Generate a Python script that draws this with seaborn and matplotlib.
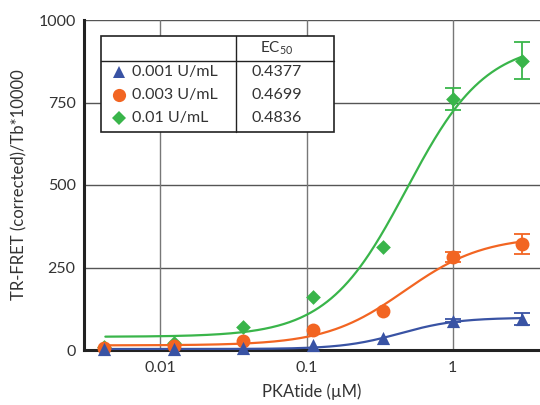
import numpy as np
import pandas as pd
import matplotlib
matplotlib.use("Agg")
import matplotlib.pyplot as plt
import seaborn as sns
from matplotlib.patches import Rectangle
from matplotlib.lines import Line2D

# ---- data ----
conc = [0.00412, 0.0123, 0.037, 0.111, 0.333, 1.0, 3.0]
series = ["0.001 U/mL", "0.003 U/mL", "0.01 U/mL"]
ec50 = [0.4377, 0.4699, 0.4836]
ec50_text = ["0.4377", "0.4699", "0.4836"]
blue_vals = [3, 3, 6, 16, 36, 89, 94]
orange_vals = [6, 11, 26, 60, 118, 282, 321]
green_vals = [8, 21, 70, 162, 312, 760, 877]
blue_err = [0, 0, 0, 0, 0, 5, 18]
orange_err = [0, 0, 0, 0, 0, 15, 30]
green_err = [0, 0, 0, 0, 0, 34, 57]
# fitted 4PL parameters (bottom, top, hill)
fit_bottom = [3, 14, 40]
fit_top = [98, 345, 935]
fit_hill = [2.2, 1.6, 1.6]
yticks = [0, 250, 500, 750, 1000]
xticks = [0.01, 0.1, 1]
xticklabels = ["0.01", "0.1", "1"]

colors = ["#3953a4", "#f26522", "#39b54a"]
markers = ["^", "o", "D"]
msizes = [9.5, 10, 7.5]
vals = [blue_vals, orange_vals, green_vals]
errs = [blue_err, orange_err, green_err]

sns.set_style("white")
plt.rcParams["font.family"] = ["Lato", "DejaVu Sans"]
txt = "#333333"

W, H = 540, 405
fig = plt.figure(figsize=(5.4, 4.05), dpi=100)
ax = fig.add_axes([84 / W, 1 - 350 / H, (W - 84) / W, 330 / H])
ax.set_xscale("log")
ax.set_xlim(0.003, 3.96)
ax.set_ylim(0, 1000)

# grid
for yv in yticks[1:]:
    ax.axhline(yv, color="#555555", lw=1.0, zorder=0)
for xv in xticks:
    ax.axvline(xv, color="#777777", lw=1.0, zorder=0)

xs = np.logspace(np.log10(0.0042), np.log10(3.0), 300)
for i in [2, 1, 0]:
    ys = fit_bottom[i] + (fit_top[i] - fit_bottom[i]) / (1 + (ec50[i] / xs) ** fit_hill[i])
    sns.lineplot(x=xs, y=ys, ax=ax, color=colors[i], lw=1.6, zorder=2)

for k, i in enumerate([2, 1, 0]):
    df = pd.DataFrame({"x": conc, "y": vals[i], "e": errs[i]})
    sub = df[df.e > 0]
    ax.errorbar(sub.x, sub.y, yerr=sub.e, fmt="none", ecolor=colors[i],
                elinewidth=1.3, capsize=6, capthick=1.3, zorder=3 + 2 * k)
    sns.scatterplot(data=df, x="x", y="y", ax=ax, marker=markers[i], color=colors[i],
                    s=msizes[i] ** 2, edgecolor=colors[i], linewidth=0, zorder=4 + 2 * k,
                    clip_on=False)

ax.set_xticks(xticks)
ax.set_xticklabels(xticklabels)
ax.minorticks_off()
ax.set_yticks(yticks)
ax.tick_params(axis="both", length=0, labelsize=11.5, colors=txt)
ax.tick_params(axis="x", pad=8)
ax.tick_params(axis="y", pad=6)
ax.set_xlabel("PKAtide (µM)", fontsize=12, color=txt, labelpad=6)
ax.set_ylabel("TR-FRET (corrected)/Tb*10000", fontsize=12, color=txt, labelpad=8)
for s in ["top", "right"]:
    ax.spines[s].set_visible(False)
for s in ["left", "bottom"]:
    ax.spines[s].set_color("#222222")
    ax.spines[s].set_linewidth(2.2)
    ax.spines[s].set_zorder(1)

# ---- table legend (pixel coords) ----
def fx(px):
    return px / W

def fy(py):
    return 1 - py / H

box_l, box_r, box_t, box_b = 101, 334, 36, 132
fig.patches.append(Rectangle((fx(box_l), fy(box_b)), fx(box_r) - fx(box_l), fy(box_t) - fy(box_b),
                             transform=fig.transFigure, facecolor="white", edgecolor="#222222",
                             lw=1.2, zorder=10))
fig.lines.append(Line2D([fx(box_l), fx(box_r)], [fy(61), fy(61)], transform=fig.transFigure,
                        color="#222222", lw=1.0, zorder=11))
fig.lines.append(Line2D([fx(236), fx(236)], [fy(box_t), fy(box_b)], transform=fig.transFigure,
                        color="#222222", lw=1.0, zorder=11))
fig.text(fx(277), fy(48.5), "EC$_{\\mathregular{50}}$", ha="center", va="center",
         fontsize=11, color=txt, zorder=12)
row_y = [72, 95, 118]
for i in range(3):
    fig.lines.append(Line2D([fx(119)], [fy(row_y[i])], transform=fig.transFigure,
                            marker=markers[i], color=colors[i], markersize=msizes[i] * 0.95,
                            markeredgewidth=0, linestyle="none", zorder=12))
    fig.text(fx(132), fy(row_y[i]), series[i], ha="left", va="center", fontsize=11.5,
             color=txt, zorder=12)
    fig.text(fx(277), fy(row_y[i]), ec50_text[i], ha="center", va="center", fontsize=11.5,
             color=txt, zorder=12)

fig.savefig("out.png", dpi=100)
